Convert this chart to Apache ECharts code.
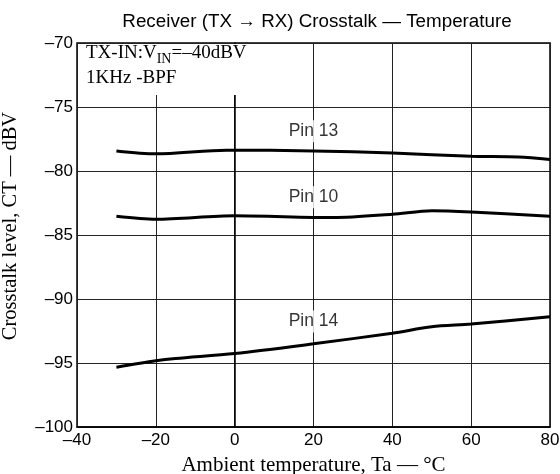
<!DOCTYPE html>
<html>
<head>
<meta charset="utf-8">
<script src="https://cdn.jsdelivr.net/npm/echarts@6/dist/echarts.min.js"></script>
<style>html,body{margin:0;padding:0;background:#fff}#c{width:560px;height:474px}</style>
</head>
<body>
<div id="c"></div>
<script>
// Data
var temps13 = [-30, -20, -2, 20, 40, 60, 72, 80];
var pin13   = [-78.43, -78.66, -78.37, -78.43, -78.6, -78.84, -78.9, -79.1];
var temps10 = [-30, -20, 0, 25, 40, 50, 60, 80];
var pin10   = [-83.54, -83.77, -83.49, -83.64, -83.38, -83.1, -83.2, -83.54];
var temps14 = [-30, -20, -15, 0, 20, 40, 50, 60, 80];
var pin14   = [-95.33, -94.83, -94.65, -94.26, -93.5, -92.67, -92.17, -91.96, -91.39];
var pinNames = ['Pin 13', 'Pin 10', 'Pin 14'];
var pinLabelX = [20, 20, 20];
var pinLabelY = [-76.9, -82.05, -91.75];
var xTicks = [-40, -20, 0, 20, 40, 60, 80];
var yTicks = [-100, -95, -90, -85, -80, -75, -70];

function zip(xs, ys) { return xs.map(function (x, i) { return [x, ys[i]]; }); }
function dash(v) { return String(v).replace('-', '\u2013'); }

var chart = echarts.init(document.getElementById('c'), null, {renderer: 'canvas'});
var lineStyle = {color: '#000', width: 3};
var sans = 'Liberation Sans, Arial, sans-serif';
var serif = 'Liberation Serif, Times New Roman, serif';
chart.setOption({
  animation: false,
  title: {
    text: 'Receiver (TX \u2192 RX) Crosstalk \u2014 Temperature',
    left: 312, top: 7, textAlign: 'center',
    textStyle: {fontFamily: sans, fontSize: 18.8, fontWeight: 'normal', color: '#000'}
  },
  grid: {left: 77, right: 10, top: 43, bottom: 47, containLabel: false, outerBoundsMode: 'none',
         show: true, borderColor: '#000', borderWidth: 1.5, backgroundColor: 'transparent'},
  xAxis: {
    type: 'value', min: xTicks[0], max: xTicks[xTicks.length - 1], interval: 20,
    name: 'Ambient temperature, Ta \u2014 \u00b0C', nameLocation: 'middle', nameGap: 28,
    nameTextStyle: {fontFamily: serif, fontSize: 21, color: '#000'},
    axisLine: {show: true, lineStyle: {color: '#000', width: 1.5}},
    axisTick: {show: false},
    axisLabel: {formatter: dash, margin: 5, fontFamily: sans, fontSize: 17, color: '#000'},
    splitLine: {show: true, lineStyle: {color: '#222', width: 1}}
  },
  yAxis: {
    type: 'value', min: yTicks[0], max: yTicks[yTicks.length - 1], interval: 5,
    name: 'Crosstalk level, CT \u2014 dBV', nameLocation: 'middle', nameGap: 56, nameRotate: 90,
    nameTextStyle: {fontFamily: serif, fontSize: 20.5, color: '#000', padding: [0, 0, 0, 18]},
    axisLine: {show: true, lineStyle: {color: '#000', width: 1.5}},
    axisTick: {show: false},
    axisLabel: {formatter: dash, margin: 4, fontFamily: sans, fontSize: 17, color: '#000'},
    splitLine: {show: true, lineStyle: {color: '#222', width: 1}}
  },
  graphic: [
    {type: 'rect', z: 1, shape: {x: 78, y: 44, width: 172, height: 51}, style: {fill: '#fff'}},
    {type: 'text', z: 3, left: 86, top: 44,
     style: {
       text: '{a|TX-IN:V}{s|IN}{a|=\u201340dBV}\n{a|1KHz -BPF}',
       rich: {
         a: {fontFamily: serif, fontSize: 19, color: '#000', lineHeight: 25},
         s: {fontFamily: serif, fontSize: 14, color: '#000', lineHeight: 25, verticalAlign: 'bottom', padding: [8, 0, 0, 0]}
       }
     }}
  ],
  series: [
    {type: 'line', data: zip(temps13, pin13), smooth: 0.3, symbol: 'none', lineStyle: lineStyle, z: 2},
    {type: 'line', data: zip(temps10, pin10), smooth: 0.3, symbol: 'none', lineStyle: lineStyle, z: 2},
    {type: 'line', data: zip(temps14, pin14), smooth: 0.3, symbol: 'none', lineStyle: lineStyle, z: 2},
    {type: 'scatter', symbolSize: 0, z: 4,
     data: pinNames.map(function (n, i) { return {name: n, value: [pinLabelX[i], pinLabelY[i]]}; }),
     label: {show: true, position: 'inside', formatter: function (p) { return p.name; },
             fontFamily: sans, fontSize: 17.5, color: '#000',
             backgroundColor: '#fff', padding: [2, 2]}}
  ]
});
</script>
</body>
</html>
